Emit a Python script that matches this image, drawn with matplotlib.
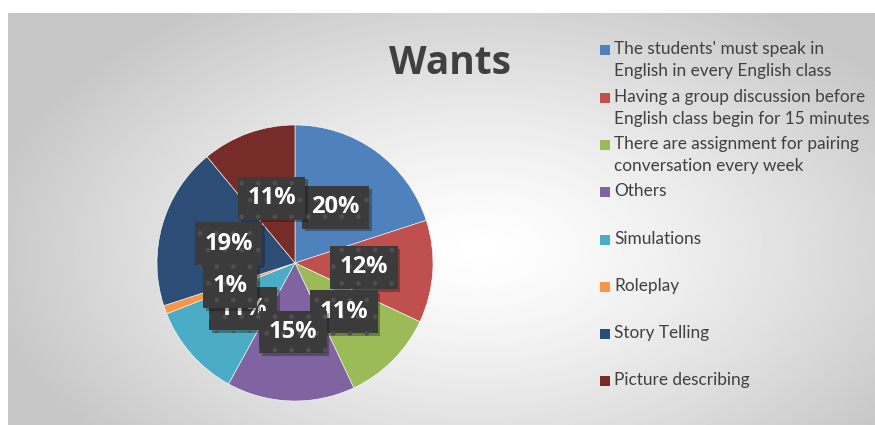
import numpy as np
import matplotlib.pyplot as plt
from matplotlib.patches import Rectangle
import matplotlib.patheffects as pe

categories = [
    "The students' must speak in\nEnglish in every English class",
    "Having a group discussion before\nEnglish class begin for 15 minutes",
    "There are assignment for pairing\nconversation every week",
    "Others",
    "Simulations",
    "Roleplay",
    "Story Telling",
    "Picture describing",
]
values = [20, 12, 11, 15, 11, 1, 19, 11]
colors = ["#4F81BD", "#C0504D", "#9BBB59", "#8064A2", "#4BACC6", "#F79646", "#2C4D75", "#772C2A"]

W, H = 875, 425
fig = plt.figure(figsize=(W / 100, H / 100), dpi=100)
fig.patch.set_facecolor("white")

# background gradient of the chart area
bg = fig.add_axes([8 / W, 0, 1 - 8 / W, (H - 13) / H], zorder=0)
xs = np.linspace(8, W, 400)
ys = np.linspace(13, H, 200)
gx, gy = np.meshgrid(xs, ys)
d = np.sqrt(((gx - 480) / 500) ** 2 + ((gy - 250) / 290) ** 2)
shade = 1 - 0.22 * np.clip(d, 0, 1) ** 1.3
bg.imshow(shade, cmap="gray", vmin=0, vmax=1, aspect="auto", extent=[8, W, H, 13])
bg.axis("off")

# pie
cx, cy, r, half = 295, 263, 138, 150
ax = fig.add_axes([(cx - half) / W, (H - cy - half) / H, 2 * half / W, 2 * half / H], zorder=1)
wedges, texts, autotexts = ax.pie(
    values, colors=colors, startangle=90, counterclock=False,
    autopct=lambda p: f"{p:.0f}%", pctdistance=0.5,
    wedgeprops=dict(edgecolor="white", linewidth=0.4),
)
ax.set_xlim(-half / r, half / r)
ax.set_ylim(-half / r, half / r)
ax.set_aspect("equal")

zorders = [5, 5, 5, 7, 4, 8, 5, 5]
for t, z in zip(autotexts, zorders):
    t.set_fontsize(17)
    t.set_fontweight("bold")
    t.set_fontfamily("Open Sans")
    t.set_color("white")
    t.set_zorder(z)
    t.set_bbox(dict(boxstyle="square,pad=0.4", facecolor="#3b3b3b", edgecolor="#4f4f4f",
                    linewidth=0, hatch="."))
    t.get_bbox_patch().set_path_effects([pe.SimplePatchShadow(offset=(2, -2), alpha=0.35), pe.Normal()])

# title
fig.text(450 / W, 1 - 64 / H, "Wants", ha="center", va="center", fontsize=28,
         fontweight="bold", color="#404040", family="Open Sans")

# legend
rows = [50, 98, 145, 192, 240, 287, 334, 381]
for lab, col, yy in zip(categories, colors, rows):
    fig.patches.append(Rectangle((600 / W, 1 - (yy + 5) / H), 10 / W, 10 / H,
                                 transform=fig.transFigure, facecolor=col, edgecolor="none", zorder=3))
    fig.text(614 / W, 1 - (yy - 9) / H, lab, ha="left", va="top", fontsize=12.4,
             color="#404040", family="Lato", linespacing=1.45, zorder=3)

fig.savefig("out.png", dpi=100)
